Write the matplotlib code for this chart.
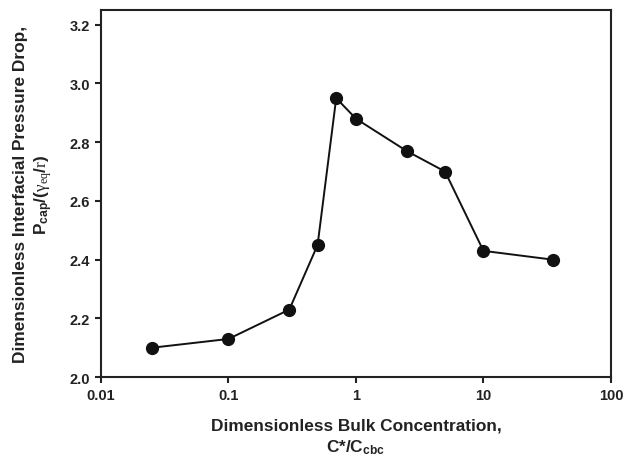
import matplotlib
matplotlib.use("Agg")
import matplotlib.pyplot as plt
from matplotlib.ticker import FixedLocator, NullLocator

plt.rcParams['font.family'] = ['Liberation Sans', 'DejaVu Sans']
plt.rcParams['mathtext.fontset'] = 'custom'
plt.rcParams['mathtext.rm'] = 'Liberation Sans:bold'
plt.rcParams['mathtext.it'] = 'Liberation Serif'
plt.rcParams['mathtext.bf'] = 'Liberation Sans:bold'

conc = [0.025, 0.1, 0.3, 0.5, 0.7, 1.0, 2.5, 5.0, 10.0, 35.0]
pressure = [2.10, 2.13, 2.23, 2.45, 2.95, 2.88, 2.77, 2.70, 2.43, 2.40]
xticks = [0.01, 0.1, 1, 10, 100]
xticklabels = ["0.01", "0.1", "1", "10", "100"]
yticks = [2.0, 2.2, 2.4, 2.6, 2.8, 3.0, 3.2]

fig = plt.figure(figsize=(6.37, 4.60), dpi=100)
ax = fig.add_axes([0.1586, 0.178, 0.8004, 0.798])

ax.plot(conc, pressure, color='#111111', lw=1.4, marker='o', ms=8.5,
        markerfacecolor='#111111', markeredgecolor='#111111')

ax.set_xscale('log')
ax.set_xlim(0.01, 100)
ax.set_ylim(2.0, 3.25)
ax.xaxis.set_major_locator(FixedLocator(xticks))
ax.xaxis.set_minor_locator(NullLocator())
ax.set_xticklabels(xticklabels)
ax.set_yticks(yticks)
ax.set_yticklabels([f"{v:.1f}" for v in yticks])

for s in ax.spines.values():
    s.set_linewidth(1.5)
    s.set_color('#222222')
ax.tick_params(axis='both', direction='out', length=4, width=1.5,
               labelsize=10.5, colors='#222222', pad=4)
for lab in ax.get_xticklabels() + ax.get_yticklabels():
    lab.set_fontweight('bold')

ax.set_xlabel("Dimensionless Bulk Concentration,\n" + r"C*/C$_{\mathbf{cbc}}$",
              fontsize=12.4, fontweight='bold', color='#222222', labelpad=11,
              linespacing=1.35)
ax.set_ylabel("Dimensionless Interfacial Pressure Drop,\n" +
              r"P$_{\mathbf{cap}}$/($\mathit{\gamma}_{\mathit{eq}}$/$\mathit{r}$)",
              fontsize=12.4, fontweight='bold', color='#222222', labelpad=11,
              linespacing=1.3)

fig.savefig("out.png", dpi=100)
